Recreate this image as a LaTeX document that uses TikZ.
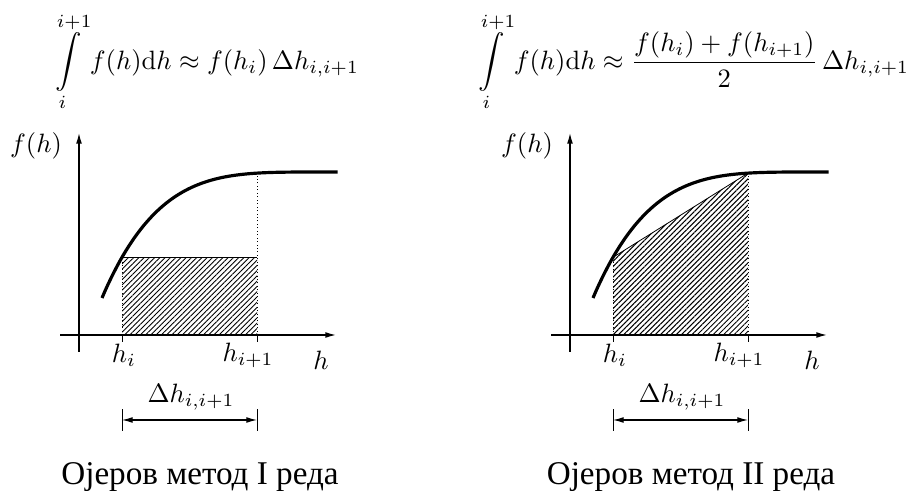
\documentclass[tikz,border=0pt]{standalone}
\usepackage{fontspec}
\newfontfamily\cyrserif{Liberation Serif}
\usetikzlibrary{arrows.meta,patterns.meta}

\begin{document}
\begin{tikzpicture}[
    x=0.377pt, y=-0.377pt,
    declare function={fh(\t)=172+126*(1-(\t-102)/236)^4.4;},
    axarrow/.style={line width=0.5pt, -{Latex[length=4pt,width=2.2pt]}},
    fcurve/.style={line width=1.2pt},
    guide/.style={line width=0.3pt, densely dotted},
    thinln/.style={line width=0.3pt},
    hatch/.style={pattern={Lines[angle=45,distance=1.4pt,line width=0.35pt]}},
    dimarrow/.style={line width=0.4pt, {Latex[length=4pt,width=2.2pt]}-{Latex[length=4pt,width=2.2pt]}},
    lbl/.style={inner sep=0pt},
    captxt/.style={font=\cyrserif\fontsize{12.5}{15}\selectfont, inner sep=0pt, anchor=base},
  ]
  \useasboundingbox (0,0) rectangle (919,491);

  % hatched areas
  \coordinate (ai) at (122,335);
  \coordinate (bi) at (257,335);
  \coordinate (ti) at (122,{fh(122)});
  \coordinate (tj) at (257,{fh(257)});
  \coordinate (tk) at (257,{fh(122)});
  \fill[hatch] (ai) -- (ti) -- (tk) -- (bi) -- cycle;
  \draw[thinln] (ti) -- (tk);
  \draw[guide] (ai) -- (ti);
  \draw[guide] (bi) -- (tj);

  \coordinate (ci) at (613,335);
  \coordinate (di) at (748,335);
  \coordinate (ui) at (613,{fh(122)});
  \coordinate (uj) at (748,{fh(257)});
  \fill[hatch] (ci) -- (ui) -- (uj) -- (di) -- cycle;
  \draw[thinln] (ui) -- (uj);
  \draw[guide] (ci) -- (ui);
  \draw[guide] (di) -- (uj);

  % axes, curve and labels of both panels
  \foreach \p/\ox/\ord/\cx in {1/0/I/200, 2/491/II/691} {
    \coordinate (xs\p) at (\ox+60,335);
    \coordinate (xe\p) at (\ox+336,335);
    \coordinate (ys\p) at (\ox+79,352);
    \coordinate (ye\p) at (\ox+79,133);
    \draw[axarrow] (xs\p) -- (xe\p);
    \draw[axarrow] (ys\p) -- (ye\p);
    \draw[fcurve] plot[domain=102:337.5, samples=80] (\x+\ox, {fh(\x)});

    \coordinate (ka\p) at (\ox+122,335);
    \coordinate (kb\p) at (\ox+257,335);
    \draw[thinln] (ka\p) -- ++(0,7);
    \draw[thinln] (kb\p) -- ++(0,7);

    \node[lbl] (fh\p) at (\ox+36,146) {$f(h)$};
    \node[lbl] (hi\p) at (\ox+124,355) {$h_i$};
    \node[lbl] (hj\p) at (\ox+248,355) {$h_{i+1}$};
    \node[lbl] (h\p) at (\ox+321,360) {$h$};

    \node[lbl] (dh\p) at (\ox+191,397) {$\Delta h_{i,i+1}$};
    \coordinate (da\p) at (\ox+122,420);
    \coordinate (db\p) at (\ox+257,420);
    \draw[dimarrow] (da\p) -- (db\p);
    \draw[thinln] ([yshift=4pt]da\p) -- ([yshift=-4pt]da\p);
    \draw[thinln] ([yshift=4pt]db\p) -- ([yshift=-4pt]db\p);

    \node[captxt] (cap\p) at (\cx,485) {Ојеров метод \ord\ реда};
  }

  % formulas
  \node[lbl] (eq1) at (205,62)
    {$\displaystyle\int\limits_i^{i+1} f(h)\mathrm{d}h \approx f(h_i)\,\Delta h_{i,i+1}$};
  \node[lbl] (eq2) at (692,62)
    {$\displaystyle\int\limits_i^{i+1} f(h)\mathrm{d}h \approx \frac{f(h_i)+f(h_{i+1})}{2}\,\Delta h_{i,i+1}$};
\end{tikzpicture}
\end{document}
